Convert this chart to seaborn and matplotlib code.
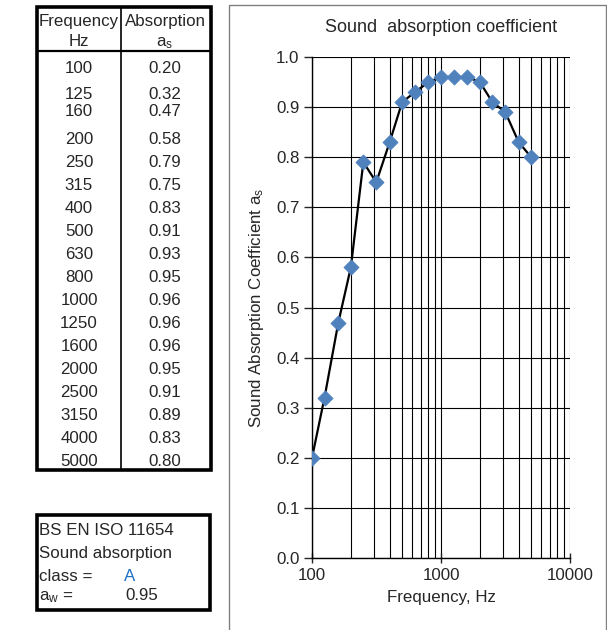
import numpy as np
import pandas as pd
import matplotlib
matplotlib.use("Agg")
import matplotlib.pyplot as plt
from matplotlib.patches import Rectangle
from matplotlib.lines import Line2D
from matplotlib.ticker import FixedLocator, FixedFormatter, NullFormatter, LogLocator
import seaborn as sns

# ---- data ----
frequencies = [100, 125, 160, 200, 250, 315, 400, 500, 630, 800, 1000, 1250,
               1600, 2000, 2500, 3150, 4000, 5000]
absorption = [0.20, 0.32, 0.47, 0.58, 0.79, 0.75, 0.83, 0.91, 0.93, 0.95, 0.96,
              0.96, 0.96, 0.95, 0.91, 0.89, 0.83, 0.80]
x_tick_values = [100, 1000, 10000]
x_tick_labels = ["100", "1000", "10000"]
y_tick_values = [0.0, 0.1, 0.2, 0.3, 0.4, 0.5, 0.6, 0.7, 0.8, 0.9, 1.0]
absorption_class = "A"
weighted_absorption = "0.95"

df = pd.DataFrame({"Frequency": frequencies, "Absorption": absorption})

sns.set_style("white")
plt.rcParams["font.family"] = ["Liberation Sans", "DejaVu Sans"]
plt.rcParams["mathtext.fontset"] = "custom"
plt.rcParams["mathtext.rm"] = "Liberation Sans"
plt.rcParams["mathtext.it"] = "Liberation Sans"

W, H = 607, 630
fig = plt.figure(figsize=(W / 100, H / 100), dpi=100)

# overlay axes in pixel coordinates for table / boxes
ov = fig.add_axes([0, 0, 1, 1])
ov.set_xlim(0, W)
ov.set_ylim(H, 0)
ov.axis("off")

# chart panel border
ov.add_patch(Rectangle((229, 5), 377, 640, fill=False, edgecolor="#808080", lw=1.0))

fs = 12.2
bo = 6  # baseline offset from row centre (pixels)
# data table
tx0, tx1, ty0, ty1 = 37, 211, 7, 470
ov.add_patch(Rectangle((tx0, ty0), tx1 - tx0, ty1 - ty0, fill=False, edgecolor="black", lw=2.6))
ov.add_line(Line2D([121, 121], [ty0, ty1], color="black", lw=1.2))
ov.add_line(Line2D([tx0, tx1], [51, 51], color="black", lw=1.6))
c1, c2 = 79, 165
ov.text(c1, 20 + bo, "Frequency", ha="center", va="baseline", fontsize=fs)
ov.text(c1, 40 + bo, "Hz", ha="center", va="baseline", fontsize=fs)
ov.text(c2, 20 + bo, "Absorption", ha="center", va="baseline", fontsize=fs)
ov.text(c2, 40 + bo, r"a$_\mathregular{s}$", ha="center", va="baseline", fontsize=fs)
row_y = [67, 93, 110, 138, 161, 184, 207, 230, 253, 276, 299, 322, 345, 368,
         391, 414, 437, 460]
for f, a, y in zip(frequencies, absorption, row_y):
    ov.text(c1, y + bo, f"{f}", ha="center", va="baseline", fontsize=fs)
    ov.text(c2, y + bo, f"{a:.2f}", ha="center", va="baseline", fontsize=fs)

# rating box
bx0, bx1, by0, by1 = 37, 210, 515, 610
ov.add_patch(Rectangle((bx0, by0), bx1 - bx0, by1 - by0, fill=False, edgecolor="black", lw=2.6))
ov.text(39, 529 + bo, "BS EN ISO 11654", ha="left", va="baseline", fontsize=fs)
ov.text(39, 552 + bo, "Sound absorption", ha="left", va="baseline", fontsize=fs)
ov.text(39, 575 + bo, "class =", ha="left", va="baseline", fontsize=fs)
ov.text(130, 575 + bo, absorption_class, ha="center", va="baseline", fontsize=fs, color="#1F6FC5")
ov.text(39, 594 + bo, r"a$_\mathregular{w}$ =", ha="left", va="baseline", fontsize=fs)
ov.text(125, 594 + bo, weighted_absorption, ha="left", va="baseline", fontsize=fs)

# main chart
px0, px1, py0, py1 = 312, 570, 57, 558
ax = fig.add_axes([px0 / W, 1 - py1 / H, (px1 - px0) / W, (py1 - py0) / H])
ax.set_facecolor("none")
sns.lineplot(data=df, x="Frequency", y="Absorption", ax=ax, color="black", lw=1.6,
             zorder=3)
sns.scatterplot(data=df, x="Frequency", y="Absorption", ax=ax, marker="D", s=60,
                color="#4F81BD", edgecolor="#4F81BD", linewidth=0.5, zorder=4)
ax.set_xscale("log")
ax.set_xlim(100, 10000)
ax.set_ylim(0, 1.0)
ax.xaxis.set_major_locator(FixedLocator(x_tick_values))
ax.xaxis.set_major_formatter(FixedFormatter(x_tick_labels))
ax.xaxis.set_minor_locator(LogLocator(base=10, subs=np.arange(2, 10)))
ax.xaxis.set_minor_formatter(NullFormatter())
ax.set_yticks(y_tick_values)
ax.set_yticklabels([f"{v:.1f}" for v in y_tick_values])
ax.grid(True, which="both", axis="x", color="black", lw=0.8)
ax.grid(True, which="major", axis="y", color="black", lw=0.8)
ax.tick_params(axis="x", which="major", direction="inout", length=7, width=1,
               labelsize=fs, pad=4, bottom=True)
ax.tick_params(axis="x", which="minor", length=0)
ax.tick_params(axis="y", which="major", direction="out", length=6, width=1,
               labelsize=fs, pad=3, left=True)
for s in ["top", "right"]:
    ax.spines[s].set_visible(False)
for s in ["left", "bottom"]:
    ax.spines[s].set_color("black")
    ax.spines[s].set_linewidth(1.0)
ax.set_xlabel("Frequency, Hz", fontsize=fs, labelpad=5)
ax.set_ylabel(r"Sound Absorption Coefficient a$_\mathregular{s}$", fontsize=fs,
              labelpad=7)
ax.set_title("Sound  absorption coefficient", fontsize=13, pad=18)

fig.savefig("out.png", dpi=100)
